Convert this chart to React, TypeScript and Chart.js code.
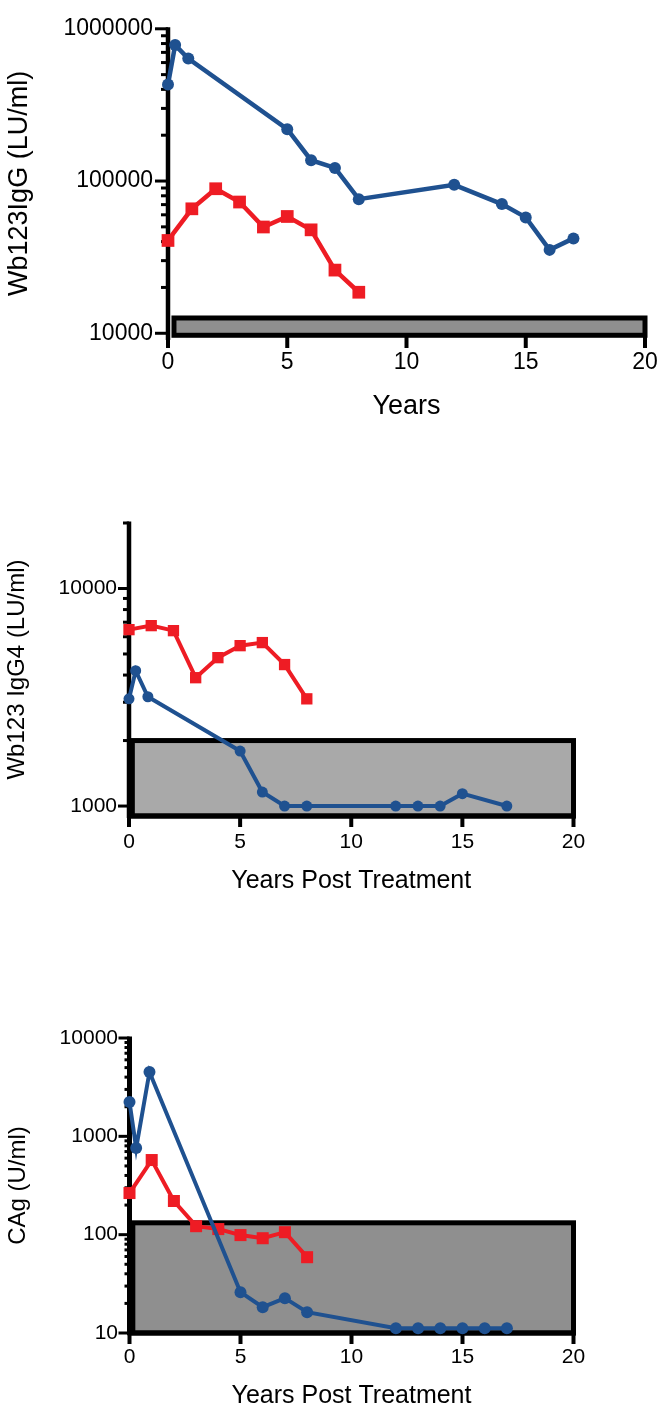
import React, { useEffect, useRef } from "react";
import { Chart, registerables } from "chart.js";

Chart.register(...registerables);

const FONT = "'Liberation Sans', Arial, Helvetica, sans-serif";
const BLUE = "#1f5190";
const RED = "#ee1c24";

// ---------- Panel A: Wb123 IgG ----------
const igGTitle = "Wb123IgG (LU/ml)";
const igGXTitle = "Years";
const igGBlueYears = [0, 0.3, 0.85, 5, 6, 7, 8, 12, 14, 15, 16, 17];
const igGBlueValues = [431000, 782000, 638000, 219000, 137000, 122000, 76000, 94400, 70600, 57700, 35300, 42000];
const igGRedYears = [0, 1, 2, 3, 4, 5, 6, 7, 8];
const igGRedValues = [40700, 65700, 89000, 72800, 49900, 58500, 47800, 26000, 18600];
const igGMajorTicks = [10000, 100000, 1000000];
const igGMinorTicks = [20000, 30000, 40000, 50000, 60000, 70000, 80000, 90000, 200000, 300000, 400000, 500000, 600000, 700000, 800000, 900000];
const igGRange = [9310, 1000000];
const igGBoxYears = [0.25, 20];
const igGBoxValues = [9700, 12600];

// ---------- Panel B: Wb123 IgG4 ----------
const igG4Title = "Wb123 IgG4 (LU/ml)";
const igG4XTitle = "Years Post Treatment";
const igG4BlueYears = [0, 0.3, 0.85, 5, 6, 7, 8, 12, 13, 14, 15, 17];
const igG4BlueValues = [3110, 4190, 3180, 1790, 1160, 1000, 1000, 1000, 1000, 1000, 1140, 1000];
const igG4RedYears = [0, 1, 2, 3, 4, 5, 6, 7, 8];
const igG4RedValues = [6470, 6750, 6400, 3890, 4810, 5460, 5640, 4470, 3110];
const igG4MajorTicks = [1000, 10000];
const igG4MinorTicks = [2000, 3000, 4000, 5000, 6000, 7000, 8000, 9000, 20000];
const igG4Range = [900, 20000];
const igG4BoxYears = [0.15, 20];
const igG4BoxValues = [900, 2000];

// ---------- Panel C: CAg ----------
const cagTitle = "CAg (U/ml)";
const cagXTitle = "Years Post Treatment";
const cagBlueYears = [0, 0.3, 0.9, 5, 6, 7, 8, 12, 13, 14, 15, 16, 17];
const cagBlueValues = [2230, 760, 4510, 26, 18.3, 22.6, 16.3, 11.2, 11.2, 11.2, 11.2, 11.2, 11.2];
const cagRedYears = [0, 1, 2, 3, 4, 5, 6, 7, 8];
const cagRedValues = [265, 574, 220, 122, 114, 99, 92, 106, 59];
const cagMajorTicks = [10, 100, 1000, 10000];
const cagMinorTicks = [20, 30, 40, 50, 60, 70, 80, 90, 200, 300, 400, 500, 600, 700, 800, 900, 2000, 3000, 4000, 5000, 6000, 7000, 8000, 9000];
const cagRange = [10, 10000];
const cagBoxYears = [0.15, 20];
const cagBoxValues = [10, 132];

const xRange = [0, 20];
const xStep = 5;

const axesPlugin = {
  id: "gpAxes",
  beforeDatasetsDraw(chart: any, _args: any, opts: any) {
    const { ctx, chartArea } = chart;
    const x = chart.scales.x;
    const y = chart.scales.y;
    ctx.save();
    // reference range box
    const bl = x.getPixelForValue(opts.boxX[0]);
    const br = x.getPixelForValue(opts.boxX[1]);
    const bt = y.getPixelForValue(opts.boxY[1]);
    const bb = y.getPixelForValue(opts.boxY[0]);
    ctx.fillStyle = opts.boxFill;
    ctx.fillRect(bl, bt, br - bl, bb - bt);
    ctx.lineWidth = 5;
    ctx.strokeStyle = "#000";
    ctx.strokeRect(bl, bt, br - bl, bb - bt);
    // y axis line
    const ax = chartArea.left;
    ctx.lineWidth = opts.yAxisWidth;
    ctx.beginPath();
    ctx.moveTo(ax, chartArea.top - 1.5);
    ctx.lineTo(ax, chartArea.bottom + 2);
    ctx.stroke();
    // y ticks
    ctx.lineWidth = 3;
    for (const t of y.ticks) {
      const py = y.getPixelForValue(t.value);
      ctx.beginPath();
      ctx.moveTo(ax - opts.majorLen, py);
      ctx.lineTo(ax, py);
      ctx.stroke();
    }
    for (const v of opts.minor) {
      const py = y.getPixelForValue(v);
      ctx.beginPath();
      ctx.moveTo(ax - opts.minorLen, py);
      ctx.lineTo(ax, py);
      ctx.stroke();
    }
    // x axis line
    if (opts.xLine) {
      ctx.lineWidth = 5;
      ctx.beginPath();
      ctx.moveTo(ax - 2, chartArea.bottom);
      ctx.lineTo(chartArea.right + 2, chartArea.bottom);
      ctx.stroke();
    }
    // x ticks
    ctx.lineWidth = 4;
    for (const t of x.ticks) {
      const px = x.getPixelForValue(t.value);
      ctx.beginPath();
      ctx.moveTo(px, chartArea.bottom - 1);
      ctx.lineTo(px, chartArea.bottom + opts.xTickLen);
      ctx.stroke();
    }
    ctx.restore();
  },
};

function makeConfig(p: any) {
  const series = (xs: number[], ys: number[], color: string, style: string, r: number) => ({
    data: xs.map((xv, i) => ({ x: xv, y: ys[i] })),
    borderColor: color,
    backgroundColor: color,
    borderWidth: p.lineWidth,
    pointStyle: style,
    pointRadius: r,
    pointBackgroundColor: color,
    pointBorderColor: color,
    pointBorderWidth: 0,
    tension: 0,
    clip: false,
  });
  return {
    type: "line",
    data: {
      datasets: [
        series(p.blueX, p.blueY, BLUE, "circle", p.circleR),
        series(p.redX, p.redY, RED, "rect", p.rectR),
      ],
    },
    plugins: [axesPlugin],
    options: {
      responsive: false,
      animation: false,
      events: [],
      layout: { padding: { left: 0, top: p.padTop, right: p.padRight, bottom: 0 } },
      plugins: {
        legend: { display: false },
        tooltip: { enabled: false },
        gpAxes: {
          boxX: p.boxX,
          boxY: p.boxY,
          boxFill: p.boxFill,
          minor: p.minor,
          majorLen: p.majorLen,
          minorLen: p.minorLen,
          xLine: p.xLine,
          xTickLen: p.xTickLen,
          yAxisWidth: p.yAxisWidth,
        },
      },
      scales: {
        x: {
          type: "linear",
          min: xRange[0],
          max: xRange[1],
          grid: { display: false, drawTicks: false },
          border: { display: false },
          ticks: {
            stepSize: xStep,
            padding: p.xTickPad,
            color: "#000",
            font: { family: FONT, size: p.tickSize, lineHeight: 1.2 },
            maxRotation: 0,
          },
          title: {
            display: true,
            text: p.xTitle,
            color: "#000",
            font: { family: FONT, size: p.xTitleSize, lineHeight: 1 },
            padding: { top: 0, bottom: p.xTitlePad },
          },
          afterFit: (s: any) => {
            s.height = p.xHeight;
          },
        },
        y: {
          type: "logarithmic",
          min: p.yRange[0],
          max: p.yRange[1],
          grid: { display: false, drawTicks: false },
          border: { display: false },
          afterBuildTicks: (s: any) => {
            s.ticks = p.major.map((v: number) => ({ value: v, major: true }));
          },
          ticks: {
            autoSkip: false,
            padding: p.yTickPad,
            color: "#000",
            font: { family: FONT, size: p.tickSize, lineHeight: 1.2 },
            callback: (v: any) => String(v),
          },
          title: {
            display: true,
            text: p.yTitle,
            color: "#000",
            font: { family: FONT, size: p.yTitleSize, lineHeight: 1 },
            padding: { top: p.yTitlePad, bottom: 0 },
          },
          afterFit: (s: any) => {
            s.width = p.yWidth;
          },
        },
      },
    },
  };
}

function Panel({ top, height, params }: { top: number; height: number; params: any }) {
  const ref = useRef<HTMLCanvasElement>(null);
  useEffect(() => {
    const chart = new Chart(ref.current as HTMLCanvasElement, makeConfig(params) as any);
    return () => chart.destroy();
  }, []);
  return (
    <div style={{ position: "absolute", left: 0, top, width: 669, height }}>
      <canvas ref={ref} width={669} height={height} style={{ display: "block", width: 669, height }} />
    </div>
  );
}

const panelA = {
  blueX: igGBlueYears, blueY: igGBlueValues, redX: igGRedYears, redY: igGRedValues,
  major: igGMajorTicks, minor: igGMinorTicks, yRange: igGRange,
  boxX: igGBoxYears, boxY: igGBoxValues, boxFill: "#8f8f8f",
  yTitle: igGTitle, xTitle: igGXTitle,
  padTop: 15, padRight: 24, yWidth: 168, xHeight: 92,
  tickSize: 23, xTitleSize: 27, yTitleSize: 27,
  xTickPad: 11, yTickPad: 15, xTitlePad: 10, yTitlePad: 6,
  lineWidth: 4.5, circleR: 6, rectR: 9,
  majorLen: 13, minorLen: 7, xLine: false, xTickLen: 10, yAxisWidth: 4.5,
};

const panelB = {
  blueX: igG4BlueYears, blueY: igG4BlueValues, redX: igG4RedYears, redY: igG4RedValues,
  major: igG4MajorTicks, minor: igG4MinorTicks, yRange: igG4Range,
  boxX: igG4BoxYears, boxY: igG4BoxValues, boxFill: "#a9a9a9",
  yTitle: igG4Title, xTitle: igG4XTitle,
  padTop: 43, padRight: 95.5, yWidth: 129, xHeight: 104,
  tickSize: 21, xTitleSize: 25, yTitleSize: 24,
  xTickPad: 14, yTickPad: 12, xTitlePad: 26.5, yTitlePad: 5.5,
  lineWidth: 4, circleR: 5.5, rectR: 8,
  majorLen: 11, minorLen: 6, xLine: true, xTickLen: 11, yAxisWidth: 4.5,
};

const panelC = {
  blueX: cagBlueYears, blueY: cagBlueValues, redX: cagRedYears, redY: cagRedValues,
  major: cagMajorTicks, minor: cagMinorTicks, yRange: cagRange,
  boxX: cagBoxYears, boxY: cagBoxValues, boxFill: "#8f8f8f",
  yTitle: cagTitle, xTitle: cagXTitle,
  padTop: 58, padRight: 95.5, yWidth: 129.5, xHeight: 78,
  tickSize: 21, xTitleSize: 25, yTitleSize: 24,
  xTickPad: 11.5, yTickPad: 11.5, xTitlePad: 2.5, yTitlePad: 6.5,
  lineWidth: 4, circleR: 6, rectR: 8.5,
  majorLen: 11, minorLen: 5, xLine: true, xTickLen: 11, yAxisWidth: 5,
};

export default function App() {
  return (
    <div style={{ position: "absolute", left: 0, top: 0, width: 669, height: 1411, background: "#fff" }}>
      <Panel top={0} height={430} params={panelA} />
      <Panel top={480} height={440} params={panelB} />
      <Panel top={980} height={431} params={panelC} />
    </div>
  );
}
